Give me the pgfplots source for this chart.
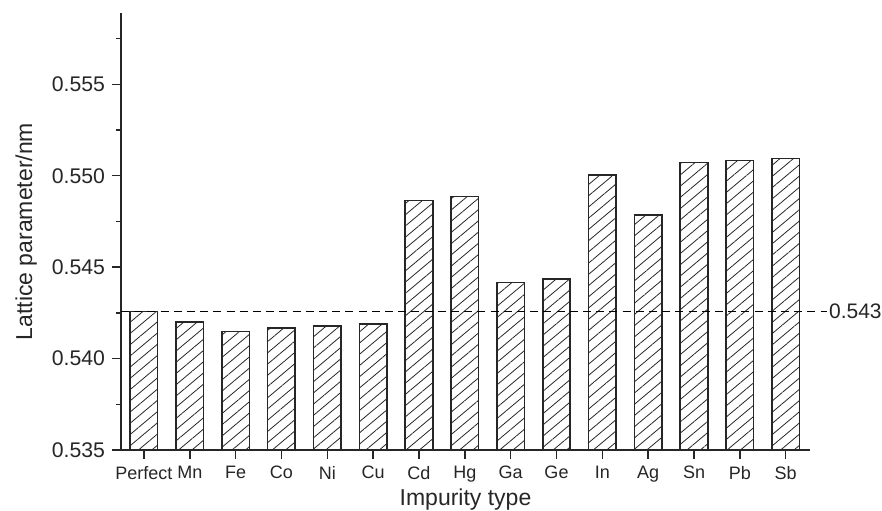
\documentclass[border=0pt]{standalone}
\usepackage{fontspec}
\setmainfont{Liberation Sans}
\usepackage{pgfplots}
\pgfplotsset{compat=1.18}
\usetikzlibrary{patterns.meta}
\definecolor{edge}{HTML}{262626}
\begin{document}
\begin{tikzpicture}
\begin{axis}[
  name=ax,
  scale only axis,
  width=344.5pt, height=218.5pt,
  xmin=-0.5, xmax=14.53,
  ymin=0.535, ymax=0.5589,
  axis x line=bottom, axis y line=left,
  axis line style={-, line width=0.75pt, color=edge},
  tick style={line width=0.75pt, color=edge},
  tick align=outside,
  major tick length=4.5pt,
  minor tick length=2.5pt,
  xtick={0,...,14},
  xticklabels={Perfect,Mn,Fe,Co,Ni,Cu,Cd,Hg,Ga,Ge,In,Ag,Sn,Pb,Sb},
  ytick={0.535,0.540,0.545,0.550,0.555},
  minor ytick={0.5375,0.5425,0.5475,0.5525,0.5575},
  yticklabels={0.535,0.540,0.545,0.550,0.555},
  every tick label/.append style={color=black!85},
  xticklabel style={font=\fontsize{9}{11}\selectfont},
  yticklabel style={font=\fontsize{10.6}{12}\selectfont},
  xlabel={Impurity type},
  ylabel={Lattice parameter/nm},
  every axis label/.append style={font=\fontsize{11.5}{13}\selectfont, color=black!85},
  xlabel style={at={(axis description cs:0.5,-0.128)}, anchor=base},
  ylabel style={at={(axis description cs:-0.129,0.5)}, anchor=base},
  clip=false,
]
\addplot[ybar, bar width=0.6, bar shift=0pt, draw=edge, line width=0.8pt,
  pattern={Lines[angle=40, distance=4.3pt, line width=0.4pt]}, pattern color=edge]
  coordinates {
  (0,0.54257) (1,0.54199) (2,0.54148) (3,0.54166) (4,0.54177)
  (5,0.54188) (6,0.54865) (7,0.54886) (8,0.54416) (9,0.54435)
  (10,0.55004) (11,0.54785) (12,0.55073) (13,0.55084) (14,0.55095)
  };
\addplot[draw=black, line width=0.6pt, dash pattern=on 4pt off 2.6pt]
  coordinates {(-0.5,0.54257) (14.89,0.54257)}
  node[pos=1, anchor=west, inner sep=1pt, font=\fontsize{10.5}{12}\selectfont, text=black!85] {0.543};
\end{axis}
\pgfresetboundingbox
\path[use as bounding box] (ax.south west) ++(-60.5pt,-30pt) rectangle ++(441pt,255pt);
\end{tikzpicture}
\end{document}
